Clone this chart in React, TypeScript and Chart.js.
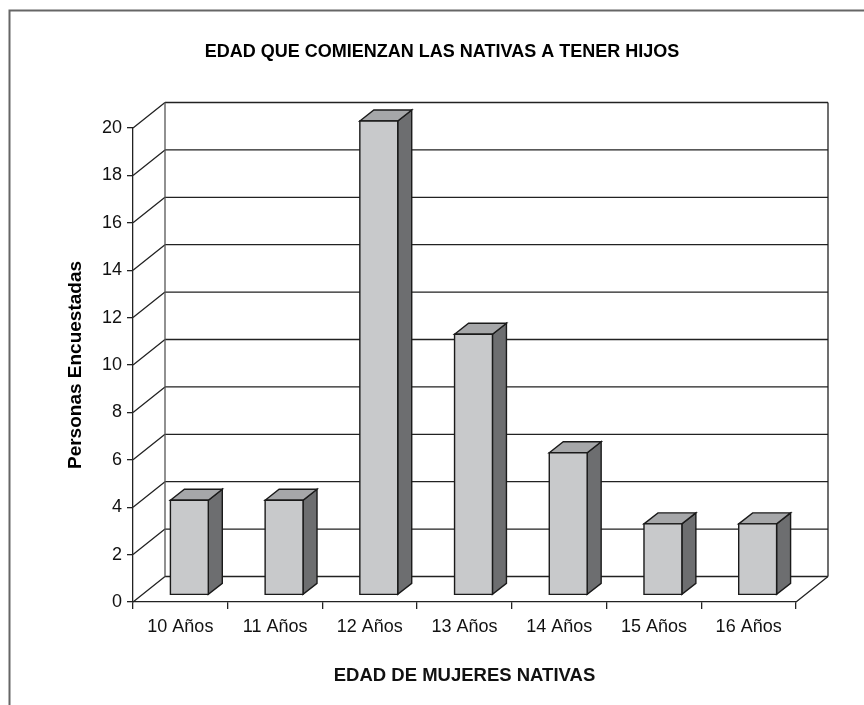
import React, { useEffect, useRef } from "react";
import { Chart, registerables } from "chart.js";

Chart.register(...registerables);

const categories = ["10 Años", "11 Años", "12 Años", "13 Años", "14 Años", "15 Años", "16 Años"];
const values = [4, 4, 20, 11, 6, 3, 3];
const yMin = 0;
const yMax = 20;
const yStep = 2;

const titleText = "EDAD QUE COMIENZAN LAS NATIVAS A TENER HIJOS";
const xTitle = "EDAD DE MUJERES NATIVAS";
const yTitle = "Personas Encuestadas";

const FONT = "'Liberation Sans', Arial, Helvetica, sans-serif";
const DX = 32; // wall depth
const DY = 25.5;
const BX = 9; // bar offset into depth
const BY = 7;
const DDX = 14; // bar depth
const DDY = 11;

const threeD = {
  id: "threeD",
  beforeDraw(chart: any) {
    const { ctx } = chart;
    ctx.save();
    ctx.strokeStyle = "#666";
    ctx.lineWidth = 2;
    ctx.beginPath();
    ctx.moveTo(9.5, 705);
    ctx.lineTo(9.5, 10.5);
    ctx.lineTo(864, 10.5);
    ctx.stroke();
    ctx.restore();
  },
  beforeDatasetsDraw(chart: any) {
    const { ctx, chartArea } = chart;
    const { left, right } = chartArea;
    const y = chart.scales.y;
    const y0 = y.getPixelForValue(yMin);
    const yT = y.getPixelForValue(yMax);
    ctx.save();
    ctx.strokeStyle = "#222";
    ctx.lineWidth = 1.3;
    ctx.beginPath();
    for (const t of y.ticks) {
      const py = y.getPixelForValue(t.value);
      ctx.moveTo(left + DX, py - DY);
      ctx.lineTo(right + DX, py - DY);
      ctx.moveTo(left, py);
      ctx.lineTo(left + DX, py - DY);
    }
    ctx.stroke();
    ctx.strokeStyle = "#555";
    ctx.beginPath();
    ctx.moveTo(left + DX, yT - DY);
    ctx.lineTo(left + DX, y0 - DY);
    ctx.stroke();
    ctx.strokeStyle = "#222";
    ctx.beginPath();
    ctx.moveTo(right + DX, yT - DY);
    ctx.lineTo(right + DX, y0 - DY);
    ctx.moveTo(right, y0);
    ctx.lineTo(right + DX, y0 - DY);
    ctx.stroke();
    ctx.restore();
  },
  afterDatasetsDraw(chart: any) {
    const { ctx } = chart;
    const meta = chart.getDatasetMeta(0);
    ctx.save();
    ctx.lineWidth = 1.4;
    ctx.strokeStyle = "#1a1a1a";
    ctx.lineJoin = "miter";
    meta.data.forEach((el: any) => {
      const p = el.getProps(["x", "y", "base", "width"], true);
      const x0 = p.x - p.width / 2 + BX;
      const x1 = p.x + p.width / 2 + BX;
      const yt = p.y - BY;
      const yb = p.base - BY;
      // side
      ctx.beginPath();
      ctx.moveTo(x1, yt);
      ctx.lineTo(x1 + DDX, yt - DDY);
      ctx.lineTo(x1 + DDX, yb - DDY);
      ctx.lineTo(x1, yb);
      ctx.closePath();
      ctx.fillStyle = "#6d6e70";
      ctx.fill();
      ctx.stroke();
      // top
      ctx.beginPath();
      ctx.moveTo(x0, yt);
      ctx.lineTo(x0 + DDX, yt - DDY);
      ctx.lineTo(x1 + DDX, yt - DDY);
      ctx.lineTo(x1, yt);
      ctx.closePath();
      ctx.fillStyle = "#a6a7a9";
      ctx.fill();
      ctx.stroke();
      // front
      ctx.beginPath();
      ctx.rect(x0, yt, x1 - x0, yb - yt);
      ctx.fillStyle = "#c8c9cb";
      ctx.fill();
      ctx.stroke();
    });
    ctx.restore();
  },
};

export default function App() {
  const ref = useRef<HTMLCanvasElement | null>(null);
  useEffect(() => {
    if (!ref.current) return;
    const chart = new Chart(ref.current, {
      type: "bar",
      data: {
        labels: categories,
        datasets: [
          {
            data: values,
            backgroundColor: "rgba(0,0,0,0)",
            borderWidth: 0,
            barPercentage: 0.4,
            categoryPercentage: 1,
          },
        ],
      },
      options: {
        responsive: false,
        animation: false,
        devicePixelRatio: 1,
        layout: { padding: { left: 20, right: 0, top: 0, bottom: 0 } },
        plugins: {
          legend: { display: false },
          tooltip: { enabled: false },
          title: {
            display: true,
            text: titleText,
            color: "#000",
            font: { family: FONT, size: 18, weight: "bold" },
            padding: { top: 41, bottom: 65.4 },
          },
        },
        scales: {
          x: {
            type: "category",
            grid: {
              display: true,
              drawOnChartArea: false,
              drawTicks: true,
              tickLength: 7,
              offset: true,
              color: "#222",
              lineWidth: 1.3,
            },
            border: { display: true, color: "#222", width: 1.3 },
            ticks: {
              color: "#111",
              font: { family: FONT, size: 18 },
              padding: 7,
              maxRotation: 0,
              autoSkip: false,
            },
            title: {
              display: true,
              text: xTitle,
              color: "#111",
              font: { family: FONT, size: 18.5, weight: "bold" },
              padding: { top: 20, bottom: 18 },
            },
            afterFit: (s: any) => {
              s.height = 103;
            },
          },
          y: {
            type: "linear",
            min: yMin,
            max: yMax,
            grid: {
              display: true,
              drawOnChartArea: false,
              drawTicks: true,
              tickLength: 6,
              color: "#222",
              lineWidth: 1.3,
            },
            border: { display: true, color: "#222", width: 1.3 },
            ticks: {
              stepSize: yStep,
              color: "#111",
              font: { family: FONT, size: 18 },
              padding: 5,
            },
            title: {
              display: true,
              text: yTitle,
              color: "#000",
              font: { family: FONT, size: 19, weight: "bold" },
              padding: { top: 44, bottom: 0 },
            },
            afterFit: (s: any) => {
              s.width = 113;
            },
          },
          y2: {
            type: "linear",
            position: "right",
            display: true,
            grid: { display: false },
            border: { display: false },
            ticks: { display: false },
            afterFit: (s: any) => {
              s.width = 68;
            },
          },
        },
      },
      plugins: [threeD],
    });
    return () => chart.destroy();
  }, []);
  return (
    <div style={{ position: "absolute", left: 0, top: 0, width: 864, height: 705, background: "#fff" }}>
      <canvas ref={ref} width={864} height={705} />
    </div>
  );
}
